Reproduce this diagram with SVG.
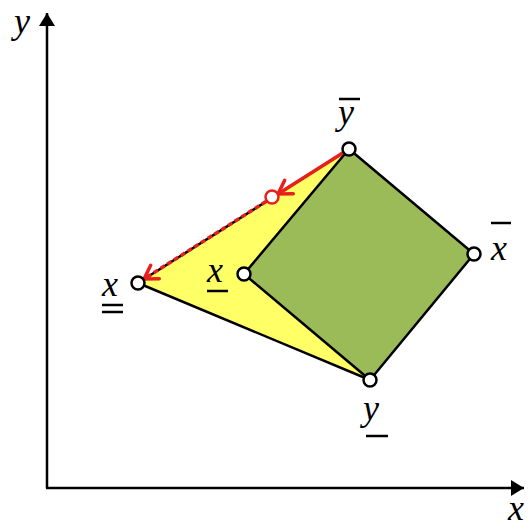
<svg xmlns="http://www.w3.org/2000/svg" width="529" height="528" viewBox="0 0 529 528">
<style>
.lbl{font-family:'Liberation Serif','Times New Roman',serif;font-style:italic;font-size:36px;fill:#000}
.bar{stroke:#000;stroke-width:2.5}
.pt{fill:#fff;stroke:#000;stroke-width:2.5}
</style>
<defs>
<marker id="ah" markerUnits="userSpaceOnUse" markerWidth="20" markerHeight="20" refX="0" refY="0" viewBox="-14 -10 16 20" orient="auto">
<path d="M-13,-8 L0,0 L-13,8 Z" fill="#000"/>
</marker>
<marker id="rh" markerUnits="userSpaceOnUse" markerWidth="24" markerHeight="24" refX="0" refY="0" viewBox="-16 -12 20 24" orient="auto">
<path d="M-13,-8 L0,0 L-13,8" fill="none" stroke="#e8201c" stroke-width="3.5" stroke-linecap="round"/>
</marker>
</defs>
<g id="axes">
<line x1="47" y1="488" x2="47" y2="13" stroke="#000" stroke-width="2.5" marker-end="url(#ah)"/>
<line x1="46" y1="488" x2="524" y2="488" stroke="#000" stroke-width="2.5" marker-end="url(#ah)"/>
<text class="lbl" x="14" y="33" font-size="30">y</text>
<text class="lbl" x="508" y="520" font-size="32">x</text>
</g>
<g id="triangle">
<polygon points="349,149 138,283 370,380" fill="#ffff66" stroke="#000" stroke-width="2.5" stroke-linejoin="round"/>
</g>
<g id="quad">
<polygon points="349,149 474,254 370,380 244,274" fill="#9bbb59" stroke="#000" stroke-width="2.5" stroke-linejoin="round"/>
</g>
<g id="connectors">
<line x1="349" y1="149" x2="278" y2="194" stroke="#e8201c" stroke-width="3.5" marker-end="url(#rh)"/>
<line x1="266" y1="201.5" x2="144" y2="279" stroke="#e8201c" stroke-width="3.5" stroke-dasharray="5 3" marker-end="url(#rh)"/>
</g>
<g id="node-ybar">
<circle class="pt" cx="349" cy="149" r="6.5"/>
<text class="lbl" x="338" y="124">y</text>
<line class="bar" x1="339" y1="99" x2="360" y2="99"/>
</g>
<g id="node-xbar">
<circle class="pt" cx="474" cy="254" r="6.5"/>
<text class="lbl" x="491" y="260">x</text>
<line class="bar" x1="491" y1="223" x2="511" y2="223"/>
</g>
<g id="node-xunder">
<circle class="pt" cx="244" cy="274" r="6.5"/>
<text class="lbl" x="207" y="282">x</text>
<line class="bar" x1="207" y1="291" x2="228" y2="291"/>
</g>
<g id="node-xdouble">
<circle class="pt" cx="138" cy="283" r="6.5"/>
<text class="lbl" x="102" y="296">x</text>
<line class="bar" x1="102" y1="305" x2="123" y2="305"/>
<line class="bar" x1="102" y1="312" x2="123" y2="312"/>
</g>
<g id="node-yunder">
<circle class="pt" cx="370" cy="380" r="6.5"/>
<text class="lbl" x="363" y="420">y</text>
<line class="bar" x1="366" y1="436" x2="388" y2="436"/>
</g>
<g id="node-mid">
<circle cx="272" cy="197" r="6.5" fill="#fff" stroke="#e8201c" stroke-width="2.5"/>
</g>
</svg>
